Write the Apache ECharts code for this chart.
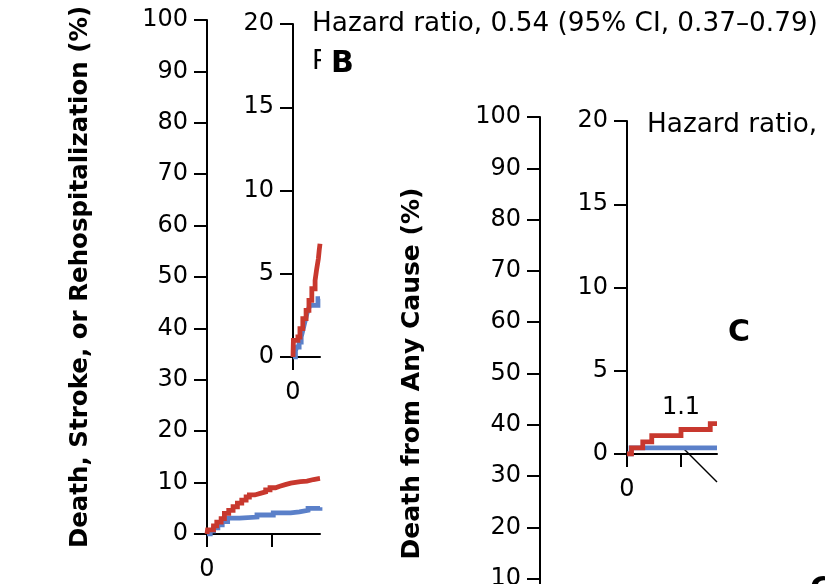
<!DOCTYPE html>
<html>
<head>
<meta charset="utf-8">
<title>Kaplan–Meier panels</title>
<script src="https://cdn.jsdelivr.net/npm/echarts@6/dist/echarts.min.js"></script>
<style>
  html, body { margin: 0; padding: 0; background: #fff; }
  #chart { width: 825px; height: 584px; }
</style>
</head>
<body>
<div id="chart"></div>
<script>
// Cumulative incidence (%) by month, panel A (death, stroke, or rehospitalization)
const panelARed = [[0,0],[0.05,0.8],[0.6,1.6],[0.9,2.3],[1.3,3.0],[1.6,4.0],[2.0,4.6],[2.4,5.3],[2.8,6.0],[3.2,6.6],[3.6,7.2],[3.9,7.6],[4.4,7.9],[4.9,8.2],[5.4,8.6],[5.8,9.0],[6.3,9.3],[6.7,9.6],[7.2,9.9],[7.7,10.2],[8.6,10.3],[9.2,10.6],[9.8,10.8],[10.4,10.9]];
const panelABlue = [[0,0],[0.3,0.6],[0.6,1.2],[1.0,1.8],[1.4,2.4],[1.9,3.1],[3.0,3.3],[4.6,3.7],[6.1,4.1],[7.7,4.3],[8.5,4.6],[9.3,5.0],[10.4,5.2]];

// Enlarged inset of panel A (0–20%)
const insetBRed = [[0,0],[0.05,1.0],[0.6,1.2],[0.85,1.7],[1.2,2.3],[1.6,2.8],[1.95,3.4],[2.3,4.1],[2.7,4.6],[2.9,5.3],[3.1,5.9],[3.2,6.4],[3.3,6.8]];
const insetBBlue = [[0,0],[0.3,0.4],[0.5,0.6],[0.75,0.9],[1.0,1.2],[1.2,1.6],[1.35,1.9],[1.5,2.2],[1.7,2.6],[1.9,2.9],[2.07,3.1],[3.05,3.5],[3.3,3.5]];

// Enlarged inset of death from any cause (0–20%)
const insetCRed = [[0,0],[0.5,0.37],[1.75,0.73],[2.75,1.1],[6,1.47],[9.25,1.83],[10,1.83]];
const insetCBlue = [[0,0],[0.45,0.37],[10,0.37]];
const insetCLabel = [[6, 1.1]];

// Axis ticks
const mainYTicks = { min: 0, max: 100, interval: 10 };
const insetYTicks = { min: 0, max: 20, interval: 5 };
const xTickValues = [0, 6];
const xLabelValues = [0];

const titleA = 'Death, Stroke, or Rehospitalization (%)';
const titleC = 'Death from Any Cause (%)';
const hazardB = 'Hazard ratio, 0.54 (95% CI, 0.37–0.79)';
const hazardC = 'Hazard ratio,';

const RED = '#c8382e';
const BLUE = '#5b80c9';
const FONT = '"DejaVu Sans", sans-serif';
const FS = 24;        // tick labels
const FS_TEXT = 26.3; // annotation text

const axisLine = { show: true, lineStyle: { color: '#000', width: 2 } };
const axisTick = { show: true, length: 13, lineStyle: { color: '#000', width: 2 } };
const labelStyle = { color: '#000', fontFamily: FONT, fontSize: FS };

function yAxis(grid, ticks, extra) {
  return Object.assign({
    type: 'value', gridIndex: grid, min: ticks.min, max: ticks.max, interval: ticks.interval,
    axisLine, axisTick, splitLine: { show: false },
    axisLabel: Object.assign({ margin: 19 }, labelStyle)
  }, extra || {});
}
function xAxis(grid, max, tickVals) {
  return {
    type: 'value', gridIndex: grid, min: 0, max: max,
    axisLine, splitLine: { show: false },
    axisTick: Object.assign({ customValues: tickVals }, axisTick),
    axisLabel: Object.assign({ margin: 24, customValues: xLabelValues }, labelStyle)
  };
}
function km(name, x, y, data, color, z) {
  return {
    name, type: 'line', xAxisIndex: x, yAxisIndex: y, data, step: 'end',
    symbol: 'none', z: z,
    lineStyle: { color, width: 4.8, cap: 'butt', join: 'miter' }
  };
}
const titleStyle = (size) => ({ color: '#000', fontFamily: FONT, fontSize: size, fontWeight: 'bold' });

const chart = echarts.init(document.getElementById('chart'), null, { renderer: 'canvas' });
chart.setOption({
  animation: false,
  backgroundColor: '#fff',
  grid: [
    { left: 207, top: 20, width: 113, height: 514, outerBoundsMode: 'none' },
    { left: 293, top: 24, width: 27, height: 333, outerBoundsMode: 'none' },
    { left: 540, top: 117, width: 400, height: 513, outerBoundsMode: 'none' },
    { left: 627, top: 121, width: 90, height: 333, outerBoundsMode: 'none' }
  ],
  xAxis: [
    xAxis(0, 10.4, xTickValues),
    xAxis(1, 3.3, [0]),
    xAxis(2, 40, xTickValues),
    xAxis(3, 10, xTickValues)
  ],
  yAxis: [
    yAxis(0, mainYTicks, {
      name: titleA, nameLocation: 'middle', nameGap: 114, nameRotate: 90, nameTextStyle: titleStyle(24.5)
    }),
    yAxis(1, insetYTicks),
    yAxis(2, mainYTicks, {
      name: titleC, nameLocation: 'middle', nameGap: 115, nameRotate: 90, nameTextStyle: titleStyle(25)
    }),
    yAxis(3, insetYTicks)
  ],
  series: [
    km('Blue A', 0, 0, panelABlue, BLUE, 2),
    km('Red A', 0, 0, panelARed, RED, 3),
    km('Blue B', 1, 1, insetBBlue, BLUE, 2),
    km('Red B', 1, 1, insetBRed, RED, 3),
    { name: 'Main C', type: 'line', xAxisIndex: 2, yAxisIndex: 2, data: [] },
    km('Blue C', 3, 3, insetCBlue, BLUE, 2),
    km('Red C', 3, 3, insetCRed, RED, 3),
    {
      name: 'Label C', type: 'scatter', xAxisIndex: 3, yAxisIndex: 3, data: insetCLabel,
      symbolSize: 0, itemStyle: { color: '#000', opacity: 1 }, z: 4,
      label: {
        show: true, position: 'top', distance: 16, opacity: 1,
        textBorderWidth: 0, textBorderColor: 'transparent',
        formatter: p => p.value[1].toFixed(1),
        color: '#000', fontFamily: FONT, fontSize: FS
      }
    }
  ],
  graphic: [
    { type: 'text', x: 312, y: 24, style: { text: hazardB, font: FS_TEXT + 'px ' + FONT, fill: '#000', verticalAlign: 'middle' } },
    { type: 'text', x: 312, y: 62, style: { text: 'P', font: FS_TEXT + 'px ' + FONT, fill: '#000', verticalAlign: 'middle' } },
    { type: 'rect', shape: { x: 321, y: 46, width: 40, height: 34 }, style: { fill: '#fff' } },
    { type: 'text', x: 331, y: 64, style: { text: 'B', font: 'bold 30px ' + FONT, fill: '#000', verticalAlign: 'middle' } },
    { type: 'text', x: 647, y: 125, style: { text: hazardC, font: FS_TEXT + 'px ' + FONT, fill: '#000', verticalAlign: 'middle' } },
    { type: 'text', x: 739, y: 333, style: { text: 'C', font: 'bold 30px ' + FONT, fill: '#000', align: 'center', verticalAlign: 'middle' } },
    { type: 'line', shape: { x1: 683, y1: 448, x2: 717, y2: 482 }, style: { stroke: '#000', lineWidth: 1.5 } },
    { type: 'text', x: 810, y: 575, style: { text: 'C', font: 'bold 30px ' + FONT, fill: '#000' } }
  ]
});
</script>
</body>
</html>
